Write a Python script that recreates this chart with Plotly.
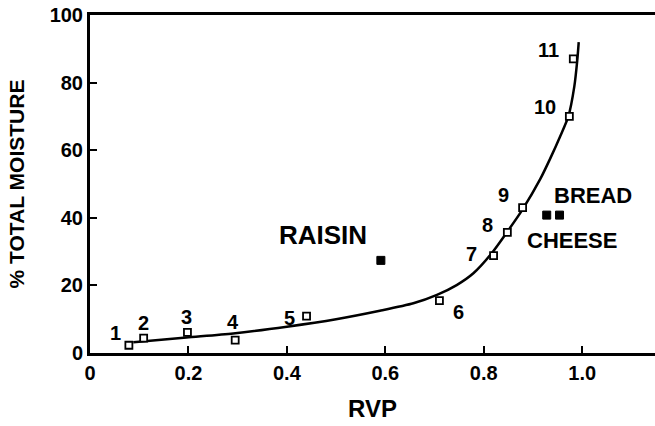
import plotly.graph_objects as go

# Sample points (relative vapour pressure vs. % of total moisture)
sample_rvp = [0.079, 0.109, 0.198, 0.295, 0.44, 0.71, 0.82, 0.848, 0.879, 0.974, 0.982]
sample_moisture = [2.3, 4.4, 6.1, 3.8, 10.9, 15.5, 28.8, 35.7, 43.0, 70.0, 87.0]
sample_labels = ["1", "2", "3", "4", "5", "6", "7", "8", "9", "10", "11"]
label_rvp = [0.051, 0.108, 0.197, 0.291, 0.405, 0.749, 0.776, 0.808, 0.841, 0.925, 0.932]
label_moisture = [5.8, 9.0, 10.6, 9.3, 10.3, 12.2, 29.3, 37.9, 46.7, 72.7, 89.6]

# Foods plotted as filled squares
food_rvp = [0.591, 0.928, 0.954]
food_moisture = [27.4, 40.8, 40.8]
food_names = ["RAISIN", "BREAD", "CHEESE"]
food_label_rvp = [0.474, 1.023, 0.979]
food_label_moisture = [34.9, 46.7, 33.4]
food_label_size = [26, 22, 22]

# Smooth isotherm curve through the samples
curve_rvp = [0.088, 0.196, 0.291, 0.40, 0.50, 0.589, 0.657, 0.705, 0.745, 0.779,
             0.815, 0.847, 0.879, 0.915, 0.935, 0.955, 0.972, 0.984, 0.990, 0.993]
curve_moisture = [3.2, 4.6, 5.8, 7.8, 10.0, 12.5, 14.7, 17.2, 20.1, 23.6,
                  29.3, 35.7, 42.5, 51.5, 57.5, 64.0, 70.0, 78.8, 86.5, 92.0]

x_ticks = [0, 0.2, 0.4, 0.6, 0.8, 1.0]
x_tick_text = ["0", "0.2", "0.4", "0.6", "0.8", "1.0"]
y_ticks = [0, 20, 40, 60, 80, 100]

FONT = "Liberation Sans, Arial, sans-serif"

fig = go.Figure()

fig.add_trace(go.Scatter(
    x=curve_rvp, y=curve_moisture, mode="lines",
    line=dict(color="black", width=2.5, shape="spline", smoothing=0.7),
    hoverinfo="skip", showlegend=False,
))

fig.add_trace(go.Scatter(
    x=sample_rvp, y=sample_moisture, mode="markers",
    marker=dict(symbol="square", size=7, color="white",
                line=dict(color="black", width=1.8)),
    showlegend=False,
))

fig.add_trace(go.Scatter(
    x=food_rvp, y=food_moisture, mode="markers",
    marker=dict(symbol="square", size=8, color="black",
                line=dict(color="black", width=1)),
    showlegend=False,
))

annotations = []
for x, y, t in zip(label_rvp, label_moisture, sample_labels):
    annotations.append(dict(x=x, y=y, text=t, showarrow=False,
                            font=dict(family=FONT, size=20, color="black", weight="bold")))
for x, y, t, s in zip(food_label_rvp, food_label_moisture, food_names, food_label_size):
    annotations.append(dict(x=x, y=y, text=t, showarrow=False,
                            font=dict(family=FONT, size=s, color="black", weight="bold")))

fig.update_layout(
    width=655, height=426,
    margin=dict(l=90, r=0, t=15, b=73),
    paper_bgcolor="white", plot_bgcolor="white",
    font=dict(family=FONT, color="black"),
    annotations=annotations,
    xaxis=dict(
        range=[0, 1.148], showgrid=False, zeroline=False,
        showline=True, linecolor="black", linewidth=3, mirror=True,
        ticks="inside", ticklen=7, tickwidth=2, tickcolor="black",
        tickvals=x_ticks, ticktext=x_tick_text,
        tickfont=dict(family=FONT, size=20, weight="bold"),
        title=dict(text="RVP", font=dict(family=FONT, size=24, weight="bold"), standoff=18),
    ),
    yaxis=dict(
        range=[0, 100], showgrid=False, zeroline=False,
        showline=True, linecolor="black", linewidth=3,
        ticks="inside", ticklen=7, tickwidth=2, tickcolor="black",
        tickvals=y_ticks,
        tickfont=dict(family=FONT, size=20, weight="bold"),
        title=dict(text="% TOTAL MOISTURE", font=dict(family=FONT, size=21, weight="bold"), standoff=20),
    ),
)

fig.write_html("out.html")
